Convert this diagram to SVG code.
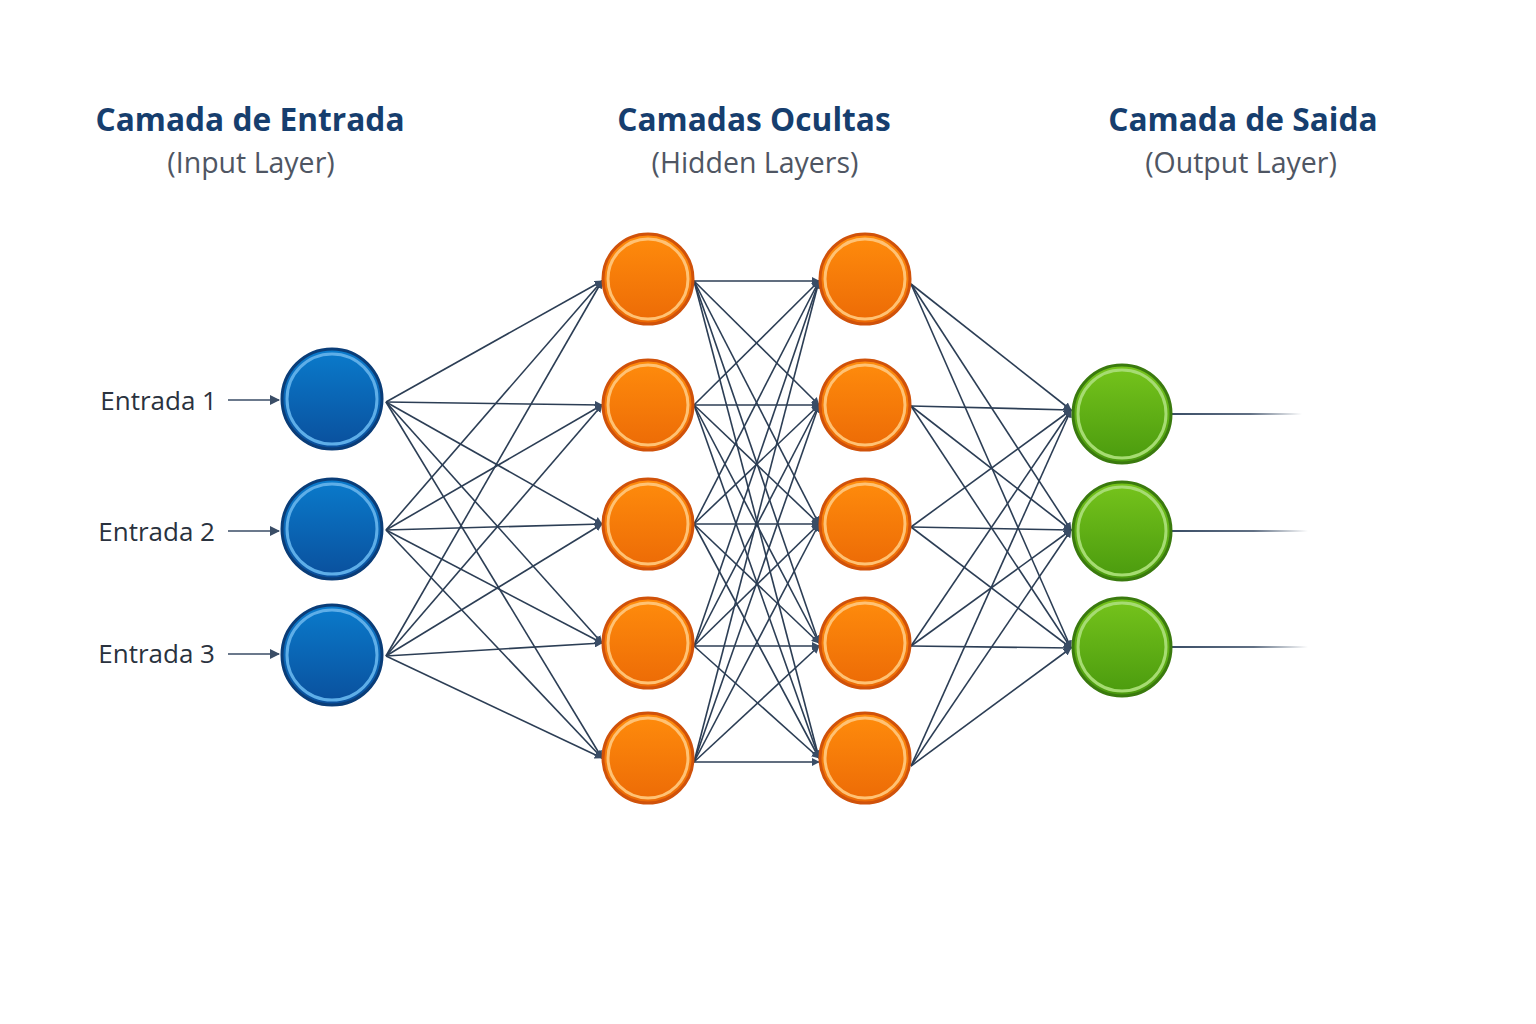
<svg xmlns="http://www.w3.org/2000/svg" width="1536" height="1024" viewBox="0 0 1536 1024">
<defs>
<style>
.title{font-family:"Open Sans","Noto Sans",sans-serif;font-weight:700;font-size:31.7px;fill:#163e6e;text-anchor:middle}
.sub{font-family:"Open Sans","Noto Sans",sans-serif;font-size:28.5px;fill:#4f5663;text-anchor:middle}
.lbl{font-family:"Open Sans","Noto Sans",sans-serif;font-size:26px;fill:#2a323e;text-anchor:end}
.c{stroke:#2c3e55;stroke-width:1.6;fill:none;marker-end:url(#ah)}
.ring{fill:none;stroke-width:3}
</style>
<marker id="ah" viewBox="0 0 10 10" refX="9" refY="5" markerWidth="8" markerHeight="8" markerUnits="userSpaceOnUse" orient="auto">
<path d="M0,0 L10,5 L0,10 z" fill="#3a4d66"/>
</marker>
<marker id="ah2" viewBox="0 0 10 10" refX="9" refY="5" markerWidth="10" markerHeight="10" markerUnits="userSpaceOnUse" orient="auto">
<path d="M0,0 L10,5 L0,10 z" fill="#3a4d66"/>
</marker>
<linearGradient id="gb" x1="0" y1="0" x2="0" y2="1"><stop offset="0" stop-color="#0a7bcc"/><stop offset="1" stop-color="#0a4f9c"/></linearGradient>
<linearGradient id="go" x1="0" y1="0" x2="0" y2="1"><stop offset="0" stop-color="#ff8c0c"/><stop offset="1" stop-color="#ec6a06"/></linearGradient>
<linearGradient id="gg" x1="0" y1="0" x2="0" y2="1"><stop offset="0" stop-color="#76c41c"/><stop offset="1" stop-color="#4a9a0e"/></linearGradient>
<linearGradient id="fade" x1="0" y1="0" x2="1" y2="0"><stop offset="0" stop-color="#3a4d66"/><stop offset="0.6" stop-color="#3a4d66" stop-opacity="0.8"/><stop offset="1" stop-color="#3a4d66" stop-opacity="0"/></linearGradient>
</defs>
<rect width="1536" height="1024" fill="#ffffff"/>

<g id="headers">
<text class="title" x="250" y="131">Camada de Entrada</text>
<text class="sub" x="251" y="173">(Input Layer)</text>
<text class="title" x="754" y="131">Camadas Ocultas</text>
<text class="sub" x="755" y="173">(Hidden Layers)</text>
<text class="title" x="1243" y="131">Camada de Saida</text>
<text class="sub" x="1241" y="173">(Output Layer)</text>
</g>

<g id="connectors">
<line x1="228" y1="400" x2="279" y2="400" stroke="#3a4d66" stroke-width="1.6" marker-end="url(#ah2)"/>
<line x1="228" y1="531" x2="279" y2="531" stroke="#3a4d66" stroke-width="1.6" marker-end="url(#ah2)"/>
<line x1="228" y1="654" x2="279" y2="654" stroke="#3a4d66" stroke-width="1.6" marker-end="url(#ah2)"/>
<line class="c" x1="386" y1="402" x2="602" y2="281"/>
<line class="c" x1="386" y1="402" x2="602" y2="405"/>
<line class="c" x1="386" y1="402" x2="602" y2="524"/>
<line class="c" x1="386" y1="402" x2="602" y2="643"/>
<line class="c" x1="386" y1="402" x2="602" y2="758"/>
<line class="c" x1="386" y1="530" x2="602" y2="281"/>
<line class="c" x1="386" y1="530" x2="602" y2="405"/>
<line class="c" x1="386" y1="530" x2="602" y2="524"/>
<line class="c" x1="386" y1="530" x2="602" y2="643"/>
<line class="c" x1="386" y1="530" x2="602" y2="758"/>
<line class="c" x1="386" y1="656" x2="602" y2="281"/>
<line class="c" x1="386" y1="656" x2="602" y2="405"/>
<line class="c" x1="386" y1="656" x2="602" y2="524"/>
<line class="c" x1="386" y1="656" x2="602" y2="643"/>
<line class="c" x1="386" y1="656" x2="602" y2="758"/>
<line class="c" x1="694" y1="281" x2="819" y2="281"/>
<line class="c" x1="694" y1="281" x2="819" y2="405"/>
<line class="c" x1="694" y1="281" x2="819" y2="524"/>
<line class="c" x1="694" y1="281" x2="819" y2="643"/>
<line class="c" x1="694" y1="281" x2="819" y2="758"/>
<line class="c" x1="694" y1="405" x2="819" y2="281"/>
<line class="c" x1="694" y1="405" x2="819" y2="405"/>
<line class="c" x1="694" y1="405" x2="819" y2="524"/>
<line class="c" x1="694" y1="405" x2="819" y2="643"/>
<line class="c" x1="694" y1="405" x2="819" y2="758"/>
<line class="c" x1="694" y1="524" x2="819" y2="281"/>
<line class="c" x1="694" y1="524" x2="819" y2="405"/>
<line class="c" x1="694" y1="524" x2="819" y2="524"/>
<line class="c" x1="694" y1="524" x2="819" y2="643"/>
<line class="c" x1="694" y1="524" x2="819" y2="758"/>
<line class="c" x1="694" y1="646" x2="819" y2="281"/>
<line class="c" x1="694" y1="646" x2="819" y2="405"/>
<line class="c" x1="694" y1="646" x2="819" y2="524"/>
<line class="c" x1="694" y1="646" x2="819" y2="646"/>
<line class="c" x1="694" y1="646" x2="819" y2="758"/>
<line class="c" x1="694" y1="762" x2="819" y2="281"/>
<line class="c" x1="694" y1="762" x2="819" y2="405"/>
<line class="c" x1="694" y1="762" x2="819" y2="524"/>
<line class="c" x1="694" y1="762" x2="819" y2="646"/>
<line class="c" x1="694" y1="762" x2="819" y2="762"/>
<line class="c" x1="911" y1="284" x2="1071" y2="410"/>
<line class="c" x1="911" y1="284" x2="1071" y2="530"/>
<line class="c" x1="911" y1="284" x2="1071" y2="648"/>
<line class="c" x1="911" y1="406" x2="1071" y2="410"/>
<line class="c" x1="911" y1="406" x2="1071" y2="530"/>
<line class="c" x1="911" y1="406" x2="1071" y2="648"/>
<line class="c" x1="911" y1="527" x2="1071" y2="410"/>
<line class="c" x1="911" y1="527" x2="1071" y2="530"/>
<line class="c" x1="911" y1="527" x2="1071" y2="648"/>
<line class="c" x1="911" y1="646" x2="1071" y2="410"/>
<line class="c" x1="911" y1="646" x2="1071" y2="530"/>
<line class="c" x1="911" y1="646" x2="1071" y2="648"/>
<line class="c" x1="911" y1="766" x2="1071" y2="410"/>
<line class="c" x1="911" y1="766" x2="1071" y2="530"/>
<line class="c" x1="911" y1="766" x2="1071" y2="648"/>
<rect x="1172" y="413" width="130" height="2" fill="url(#fade)"/>
<rect x="1172" y="530" width="136" height="2" fill="url(#fade)"/>
<rect x="1172" y="646" width="136" height="2" fill="url(#fade)"/>
</g>

<g id="input-labels">
<text class="lbl" x="217" y="410">Entrada 1</text>
<text class="lbl" x="215" y="541">Entrada 2</text>
<text class="lbl" x="215" y="663">Entrada 3</text>
</g>

<g id="in1"><circle cx="332" cy="399" r="50" fill="url(#gb)" stroke="#0a3d78" stroke-width="3"/><circle class="ring" cx="332" cy="399" r="45" stroke="#5eaee8"/></g>
<g id="in2"><circle cx="332" cy="529" r="50" fill="url(#gb)" stroke="#0a3d78" stroke-width="3"/><circle class="ring" cx="332" cy="529" r="45" stroke="#5eaee8"/></g>
<g id="in3"><circle cx="332" cy="655" r="50" fill="url(#gb)" stroke="#0a3d78" stroke-width="3"/><circle class="ring" cx="332" cy="655" r="45" stroke="#5eaee8"/></g>

<g id="h1a"><circle cx="648" cy="279" r="45" fill="url(#go)" stroke="#d0520a" stroke-width="3"/><circle class="ring" cx="648" cy="279" r="40" stroke="#ffc274"/></g>
<g id="h1b"><circle cx="648" cy="405" r="45" fill="url(#go)" stroke="#d0520a" stroke-width="3"/><circle class="ring" cx="648" cy="405" r="40" stroke="#ffc274"/></g>
<g id="h1c"><circle cx="648" cy="524" r="45" fill="url(#go)" stroke="#d0520a" stroke-width="3"/><circle class="ring" cx="648" cy="524" r="40" stroke="#ffc274"/></g>
<g id="h1d"><circle cx="648" cy="643" r="45" fill="url(#go)" stroke="#d0520a" stroke-width="3"/><circle class="ring" cx="648" cy="643" r="40" stroke="#ffc274"/></g>
<g id="h1e"><circle cx="648" cy="758" r="45" fill="url(#go)" stroke="#d0520a" stroke-width="3"/><circle class="ring" cx="648" cy="758" r="40" stroke="#ffc274"/></g>

<g id="h2a"><circle cx="865" cy="279" r="45" fill="url(#go)" stroke="#d0520a" stroke-width="3"/><circle class="ring" cx="865" cy="279" r="40" stroke="#ffc274"/></g>
<g id="h2b"><circle cx="865" cy="405" r="45" fill="url(#go)" stroke="#d0520a" stroke-width="3"/><circle class="ring" cx="865" cy="405" r="40" stroke="#ffc274"/></g>
<g id="h2c"><circle cx="865" cy="524" r="45" fill="url(#go)" stroke="#d0520a" stroke-width="3"/><circle class="ring" cx="865" cy="524" r="40" stroke="#ffc274"/></g>
<g id="h2d"><circle cx="865" cy="643" r="45" fill="url(#go)" stroke="#d0520a" stroke-width="3"/><circle class="ring" cx="865" cy="643" r="40" stroke="#ffc274"/></g>
<g id="h2e"><circle cx="865" cy="758" r="45" fill="url(#go)" stroke="#d0520a" stroke-width="3"/><circle class="ring" cx="865" cy="758" r="40" stroke="#ffc274"/></g>

<g id="out1"><circle cx="1122" cy="414" r="49" fill="url(#gg)" stroke="#3a7a0e" stroke-width="3"/><circle class="ring" cx="1122" cy="414" r="44" stroke="#a6dc72"/></g>
<g id="out2"><circle cx="1122" cy="531" r="49" fill="url(#gg)" stroke="#3a7a0e" stroke-width="3"/><circle class="ring" cx="1122" cy="531" r="44" stroke="#a6dc72"/></g>
<g id="out3"><circle cx="1122" cy="647" r="49" fill="url(#gg)" stroke="#3a7a0e" stroke-width="3"/><circle class="ring" cx="1122" cy="647" r="44" stroke="#a6dc72"/></g>
</svg>
